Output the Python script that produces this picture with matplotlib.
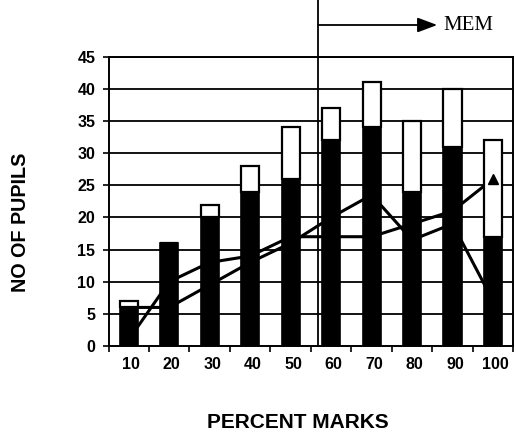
import matplotlib
matplotlib.use("Agg")
import matplotlib.pyplot as plt
import matplotlib.transforms as mtransforms
import numpy as np

plt.rcParams['font.family'] = ['Liberation Sans', 'DejaVu Sans']

categories = ["10", "20", "30", "40", "50", "60", "70", "80", "90", "100"]
black_vals = [6, 16, 20, 24, 26, 32, 34, 24, 31, 17]
total_vals = [7, 16, 22, 28, 34, 37, 41, 35, 40, 32]
line_p = [1, 10, 13, 14, 17, 17, 17, 19, 21, 26]
line_q = [6, 6, 9.5, 13, 16, 20, 23.5, 16.5, 19, 7]
y_ticks = [0, 5, 10, 15, 20, 25, 30, 35, 40, 45]
mem_x = 4.68
mem_label = "MEM"

W, H = 516, 438
fig = plt.figure(figsize=(W / 100, H / 100), dpi=100)
left, right, top, bottom = 108.5, 513.3, 56.7, 346.0
ax = fig.add_axes([left / W, 1 - bottom / H, (right - left) / W, (bottom - top) / H])

x = np.arange(len(categories))
white_vals = [t - b for t, b in zip(total_vals, black_vals)]

# grid
for yv in y_ticks[1:]:
    ax.axhline(yv, color='black', lw=1.3, zorder=1)

# lines (behind bars)
ax.plot(x, line_p, color='black', lw=2.2, zorder=2, solid_capstyle='butt')
ax.plot(x, line_q, color='black', lw=2.2, zorder=2, solid_capstyle='butt')

bw = 0.45
ax.bar(x, black_vals, width=bw, color='black', edgecolor='black', lw=1.2, zorder=3)
ax.bar(x, white_vals, width=bw, bottom=black_vals, color='white', edgecolor='black', lw=1.6, zorder=3)

# end marker of line P visible over the bar
ax.plot([x[-1]], [line_p[-1]], marker='^', color='black', ms=6.5, zorder=4, ls='none')

ax.set_xlim(-0.5, len(categories) - 0.5)
ax.set_ylim(0, 45)
ax.set_yticks(y_ticks)
ax.set_yticklabels([str(v) for v in y_ticks], fontsize=11.5, fontweight='bold')
ax.set_xticks(x + 0.06)
ax.set_xticklabels(categories, fontsize=11.5, fontweight='bold')
ax.set_xticks(np.arange(-0.5, len(categories)), minor=True)
ax.tick_params(axis='x', which='major', length=0, pad=8)
ax.tick_params(axis='x', which='minor', length=4, width=1.2, direction='out')
ax.tick_params(axis='y', which='major', length=4, width=1.2, direction='out', pad=5.5)
for s in ax.spines.values():
    s.set_linewidth(1.4)
    s.set_color('black')

# MEM vertical line and arrow
trans = mtransforms.blended_transform_factory(ax.transData, ax.transAxes)
ytop = 1 + top / (bottom - top)
ax.plot([mem_x, mem_x], [0, ytop], color='black', lw=1.3, transform=trans, clip_on=False, zorder=5)
yarr = 1 + (top - 25) / (bottom - top)
ax.annotate("", xy=(7.62, yarr), xytext=(mem_x, yarr), xycoords=trans, textcoords=trans,
            arrowprops=dict(arrowstyle='-|>,head_length=1.2,head_width=0.45', color='black', lw=1.3,
                            shrinkA=0, shrinkB=0), annotation_clip=False)
ax.text(7.77, yarr, mem_label, transform=trans, fontsize=15, family='Liberation Serif',
        va='center', ha='left')

fig.text(298 / W, 1 - 423 / H, "PERCENT MARKS", fontsize=15, fontweight='bold', ha='center', va='center')
fig.text(21 / W, 1 - 222 / H, "NO OF PUPILS", fontsize=14.2, fontweight='bold', rotation=90,
         ha='center', va='center')

fig.savefig("out.png", dpi=100)
